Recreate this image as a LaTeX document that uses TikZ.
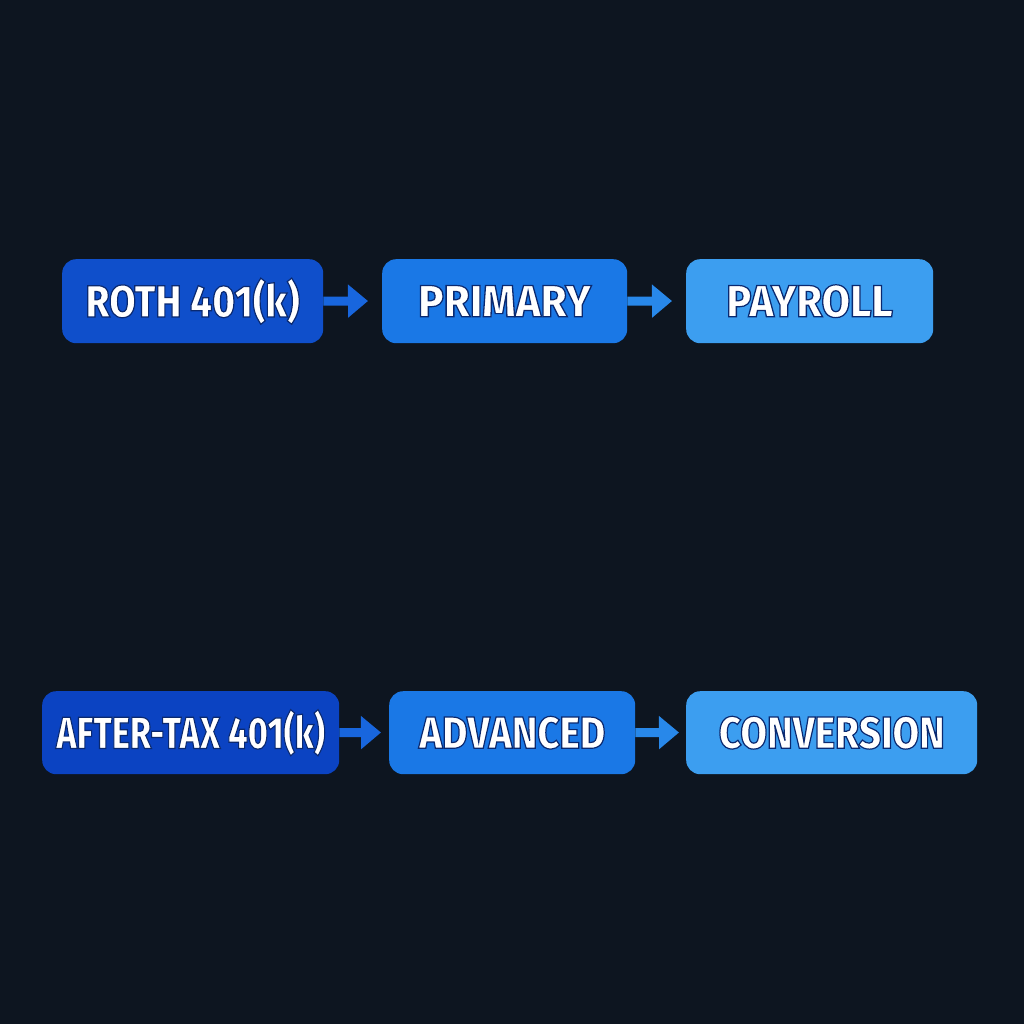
\documentclass[tikz,border=0pt]{standalone}
\usepackage{fontspec}
\usepackage{graphicx}
\setmainfont{Fira Sans}
\usetikzlibrary{arrows.meta}
\definecolor{bg}{HTML}{0D1520}
\definecolor{cA}{HTML}{0F4FCB}
\definecolor{cAb}{HTML}{0B43C2}
\definecolor{cB}{HTML}{1A78E6}
\definecolor{cC}{HTML}{3C9EF0}
\definecolor{arA}{HTML}{1866DE}
\definecolor{arB}{HTML}{2888EA}
\newfontfamily\boxfont[FakeStretch=0.86]{Fira Sans ExtraBold}
% outlined text: fill white, stroke dark navy
\newcommand\otext[2]{\special{pdf:literal 2 Tr 1.2 w 0.04 0.16 0.44 RG}\scalebox{#1}[1]{#2}\special{pdf:literal 0 Tr}}
\tikzset{
  boxst/.style={rounded corners=14pt, inner sep=0pt, anchor=north west},
  txtst/.style={font=\boxfont\fontsize{45}{45}\selectfont, inner sep=0pt, text=white},
  arrst/.style={line width=9pt, -{Triangle[length=20pt,width=32pt]}},
}
\begin{document}
\begin{tikzpicture}[x=1pt,y=-1pt]
\useasboundingbox (0,0) rectangle (1024,1024);
\fill[bg] (0,0) rectangle (1024,1024);
% row 1
\node[boxst, fill=cA, minimum width=261pt, minimum height=84pt] (r1a) at (62,259) {};
\node[boxst, fill=cB, minimum width=245pt, minimum height=84pt] (r1b) at (382,259) {};
\node[boxst, fill=cC, minimum width=247pt, minimum height=84pt] (r1c) at (686,259) {};
\node[txtst] (t1a) at (r1a.center) {\otext{1}{ROTH 401(k)}};
\node[txtst] (t1b) at (r1b.center) {\otext{1.09}{PRIMARY}};
\node[txtst] (t1c) at (r1c.center) {\otext{1.07}{PAYROLL}};
\coordinate (e1a) at (368,301);
\coordinate (e1b) at (672,301);
\draw[arrst, draw=arA] (r1a.east) -- (e1a);
\draw[arrst, draw=arB] (r1b.east) -- (e1b);
% row 2
\node[boxst, fill=cAb, minimum width=297pt, minimum height=83pt] (r2a) at (42,691) {};
\node[boxst, fill=cB, minimum width=246pt, minimum height=83pt] (r2b) at (389,691) {};
\node[boxst, fill=cC, minimum width=291pt, minimum height=83pt] (r2c) at (686,691) {};
\node[txtst] (t2a) at (r2a.center) {\otext{0.885}{AFTER-TAX 401(k)}};
\node[txtst] (t2b) at (r2b.center) {\otext{1}{ADVANCED}};
\node[txtst] (t2c) at (r2c.center) {\otext{1}{CONVERSION}};
\coordinate (e2a) at (381,732.5);
\coordinate (e2b) at (679,732.5);
\draw[arrst, draw=arA] (r2a.east) -- (e2a);
\draw[arrst, draw=arB] (r2b.east) -- (e2b);
\end{tikzpicture}
\end{document}
